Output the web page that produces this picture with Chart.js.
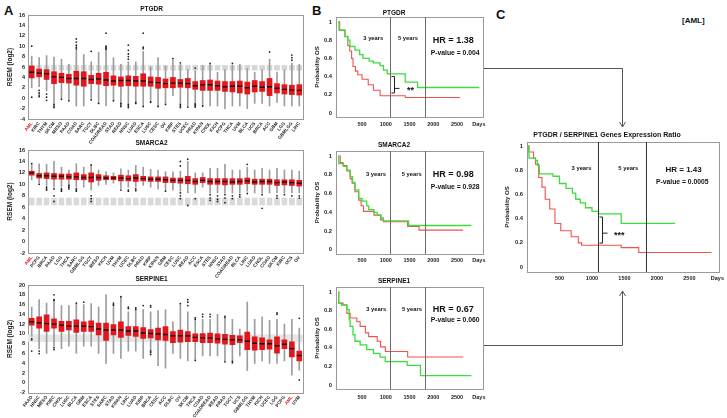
<!DOCTYPE html>
<html>
<head>
<meta charset="utf-8">
<script src="https://cdn.jsdelivr.net/npm/chart.js@4.4.0/dist/chart.umd.min.js"></script>
<style>
  body { margin: 0; background: #fff; width: 727px; height: 418px; overflow: hidden; position: relative; font-family: "Liberation Sans", Arial, sans-serif; }
  canvas { position: absolute; }
  .lbl { position: absolute; font-weight: bold; line-height: 1; color: #111; }
  svg { position: absolute; left: 0; top: 0; }
</style>
</head>
<body>
<div class="lbl" style="left:4px;top:4px;font-size:13px">A</div>
<div class="lbl" style="left:312px;top:4px;font-size:13px">B</div>
<div class="lbl" style="left:496px;top:8px;font-size:13px">C</div>
<div class="lbl" style="left:682px;top:17px;font-size:8px">[AML]</div>

<svg width="727" height="418">
  <g fill="none" stroke="#555" stroke-width="1">
    <polyline points="483,68.5 622.5,68.5 622.5,126" />
    <polyline points="619.5,122 622.5,127 625.5,122" />
    <polyline points="483,345.5 622.5,345.5 622.5,292" />
    <polyline points="619.5,296 622.5,291 625.5,296" />
  </g>
</svg>

<canvas id="boxA1" width="310" height="145" style="left:0;top:0"></canvas>
<canvas id="boxA2" width="310" height="150" style="left:0;top:130px"></canvas>
<canvas id="boxA3" width="310" height="152" style="left:0;top:266px"></canvas>
<canvas id="kmB1" width="190" height="132" style="left:305px;top:0"></canvas>
<canvas id="kmB2" width="190" height="139" style="left:305px;top:130px"></canvas>
<canvas id="kmB3" width="190" height="138" style="left:305px;top:266px"></canvas>
<canvas id="kmC" width="232" height="170" style="left:495px;top:120px"></canvas>

<script>
Chart.defaults.font.family = '"Liberation Sans", Arial, sans-serif';
Chart.defaults.font.weight = 'bold';
Chart.defaults.color = '#222';

// ---- Panel A: expression by cohort, [lo, q1, median, q3, hi]
const ptgdrLabels = ["AML","KIRC","THYM","SKCM","MESO","PAAD","COAD","SARC","TGCT","DLBC","COADREAD","STAD","READ","HNSC","LUAD","ESCA","LUSC","CESC","OV","KIRP","STES","UCEC","PRAD","KIPAN","CHOL","KICH","PCPG","THCA","UVM","BLCA","UCS","BRCA","ACC","GBM","LGG","GBMLGG","LIHC"];
const ptgdrBox = [
  [2.0,3.9,5.0,6.2,8.1],[2.2,4.1,4.8,5.6,7.8],[1.4,3.6,4.7,5.5,8.2],[-1.0,2.8,4.1,5.1,7.9],
  [0.0,3.0,4.0,4.8,7.5],[-0.4,2.9,3.8,4.6,6.5],[-1.5,2.5,3.8,5.2,9.3],[-1.5,2.3,3.8,5.1,8.4],
  [0.0,2.8,3.6,4.4,7.0],[-1.0,2.7,3.7,4.8,8.8],[-1.5,2.4,3.5,5.0,9.2],[-0.5,2.5,3.3,4.3,7.8],
  [-1.0,2.3,3.4,4.1,6.5],[-1.0,2.4,3.4,4.3,7.0],[-0.6,2.3,3.3,4.2,7.0],[-1.4,2.3,3.3,4.7,9.0],
  [-0.3,2.3,3.1,4.1,6.0],[-1.5,1.9,3.0,4.0,7.8],[-1.0,2.0,2.8,3.7,6.2],[0.5,2.0,2.9,4.0,7.3],
  [-1.0,2.1,2.9,3.6,6.5],[-1.5,2.0,2.8,3.8,5.5],[-1.0,1.7,2.4,3.2,5.3],[-1.3,1.5,2.6,3.4,6.3],
  [-1.5,1.5,2.6,3.5,6.5],[-1.5,1.5,2.4,3.3,5.0],[-2.0,1.3,2.2,3.2,5.5],[-1.5,1.2,2.3,3.2,6.4],
  [-1.5,1.0,2.3,3.3,6.5],[-2.0,0.8,2.0,3.1,5.7],[-1.0,1.2,2.3,3.4,5.0],[-1.0,1.3,2.1,3.2,5.5],
  [-1.5,0.5,2.2,3.8,7.5],[-0.8,1.0,1.9,2.8,5.0],[-1.5,0.8,1.7,2.6,5.4],[-1.5,0.7,1.6,2.5,6.7],
  [-1.5,0.6,1.5,2.6,6.5]
];
const ptgdrNormal = [
  [5.4,6.3],[5.4,6.3],[5.4,6.3],[5.4,6.3],[5.4,6.3],[5.4,6.3],[5.4,6.3],[5.4,6.3],[5.4,6.3],[5.4,6.3],
  [5.4,6.3],[5.4,6.3],[5.4,6.3],[5.4,6.3],[5.4,6.3],[5.4,6.3],[5.4,6.3],[5.4,6.3],[5.4,6.3],[5.4,6.3],
  [5.4,6.3],[5.4,6.3],[5.4,6.3],[5.4,6.3],[5.4,6.3],[5.4,6.3],[5.4,6.3],[5.4,6.3],[5.4,6.3],[5.4,6.3],
  [5.4,6.3],[5.4,6.3],[5.4,6.3],[5.4,6.3],[5.4,6.3],[5.4,6.3],[5.4,6.3]
];
const ptgdrOut = [
  [0,10.0],[0,0.2],[1,1.5],[1,1.0],[1,0.6],[1,0.3],[2,0.8],[2,0.2],[2,-0.4],[3,-1.2],[3,-1.5],[3,-1.8],
  [4,-0.2],[5,-0.5],[6,9.5],[6,9.8],[6,10.2],[6,10.8],[6,11.4],[8,9.0],[8,-0.3],[9,-1.0],
  [10,9.4],[10,9.6],[10,9.8],[10,10.0],[10,12.5],[11,-0.5],[12,-1.0],[12,-1.3],[12,-1.6],
  [13,7.5],[13,8.0],[13,8.5],[13,9.2],[13,10.2],[13,-1.2],[13,-1.5],[13,-1.8],[14,-0.8],[14,-1.0],
  [15,9.5],[15,9.8],[15,12.5],[15,-1.6],[16,-0.6],[16,-0.8],[17,-1.6],[18,-1.2],[19,7.6],
  [20,6.8],[20,-1.2],[20,-1.5],[20,-1.8],[21,-1.7],[22,5.8],[22,-1.1],[22,-1.3],[22,-1.5],[22,-1.7],
  [23,-1.5],[24,6.7],[27,6.7],[32,8.9],[35,7.3],[35,7.8],[35,8.3]
];

const smarcaLabels = ["AML","PCPG","BRCA","PAAD","LGG","THCA","SARC","GBMLGG","TGCT","MESO","KICH","UVM","THYM","UCEC","DLBC","PRAD","KIRP","KIPAN","GBM","CESC","LUSC","READ","ACC","ESCA","STES","HNSC","STAD","COADREAD","BLCA","LIHC","LUAD","CHOL","COAD","SKCM","KIRC","UCS","OV"];
const smarcaBox = [
  [10.8,11.6,12.0,12.3,13.3],[10.2,11.1,11.5,11.9,13.6],[9.8,11.0,11.5,12.0,13.5],[9.5,10.9,11.4,11.9,14.0],
  [9.5,10.9,11.4,11.8,13.0],[9.5,10.9,11.3,11.8,12.5],[9.5,10.8,11.3,12.0,13.6],[9.5,10.8,11.2,11.7,13.0],
  [9.0,10.4,11.2,12.0,13.3],[9.8,10.7,11.2,11.7,12.5],[10.0,10.8,11.1,11.5,12.2],[10.2,10.8,11.1,11.4,12.0],
  [9.3,10.6,11.1,11.6,12.7],[9.5,10.6,11.0,11.5,12.5],[9.5,10.5,11.1,11.7,13.3],[9.8,10.6,11.0,11.4,13.0],
  [9.5,10.5,10.9,11.3,12.6],[9.2,10.5,10.9,11.3,12.5],[9.0,10.3,10.8,11.3,12.2],[9.0,10.3,10.7,11.1,12.2],
  [8.8,10.2,10.7,11.1,12.3],[8.5,10.1,10.7,11.4,14.0],[8.5,10.0,10.5,11.0,12.0],[9.5,10.3,10.7,11.2,12.0],
  [8.5,10.0,10.5,11.0,12.8],[8.5,10.0,10.5,11.0,12.8],[8.5,9.9,10.5,11.0,13.5],[8.5,10.0,10.4,11.0,12.5],
  [8.5,10.0,10.5,11.0,12.5],[8.8,10.1,10.6,11.1,13.0],[8.5,10.0,10.4,10.9,12.5],[8.5,10.0,10.5,10.9,12.8],
  [8.5,10.0,10.5,10.9,12.5],[8.5,9.8,10.3,10.8,12.8],[8.5,9.9,10.4,10.8,12.5],[8.5,9.8,10.3,10.8,12.5],
  [8.5,9.7,10.2,10.7,12.3]
];
const smarcaNormal = [
  [6.4,7.6],[6.4,7.6],[6.4,7.6],[6.4,7.6],[6.4,7.6],[6.4,7.6],[6.4,7.6],[6.4,7.6],[6.4,7.6],[6.4,7.6],
  [6.4,7.6],[6.4,7.6],[6.4,7.6],[6.4,7.6],[6.4,7.6],[6.4,7.6],[6.4,7.6],[6.4,7.6],[6.4,7.6],[6.4,7.6],
  [6.4,7.6],[6.4,7.6],[6.4,7.6],[6.4,7.6],[6.4,7.6],[6.4,7.6],[6.4,7.6],[6.4,7.6],[6.4,7.6],[6.4,7.6],
  [6.4,7.6],[6.4,7.6],[6.4,7.6],[6.4,7.6],[6.4,7.6],[6.4,7.6],[6.4,7.6]
];
const smarcaOut = [
  [0,13.6],[1,10.0],[2,9.5],[2,9.2],[2,9.0],[3,9.2],[3,8.0],[3,7.0],[4,9.2],[4,9.0],[4,8.8],
  [5,9.8],[5,9.5],[5,9.2],[6,9.2],[6,9.0],[6,8.8],[8,8.0],[8,7.5],[8,7.0],[8,13.4],
  [12,9.0],[13,8.8],[13,9.0],[14,9.2],[14,8.9],[18,8.8],[20,8.5],[20,8.0],[20,7.5],[20,13.2],[20,14.0],
  [21,6.3],[21,14.4],[22,7.5],[24,8.2],[24,7.6],[24,7.2],[25,8.0],[25,7.4],[25,7.0],[26,8.2],[26,7.6],
  [26,6.8],[27,8.0],[27,7.5],[28,8.2],[28,7.8],[29,13.5],[29,8.4],[31,5.8],[31,8.2],[33,8.0],[33,7.6],
  [34,8.2],[35,8.0],[36,8.0],[36,7.6]
];

const serpLabels = ["PAAD","HNSC","MESO","KIRC","CHOL","LUSC","BLCA","GBM","ESCA","STES","SARC","STAD","KIPAN","LIHC","LUAD","KIRP","BRCA","CESC","ACC","DLBC","OV","SKCM","THCA","COAD","COADREAD","READ","PRAD","TGCT","UCS","GBMLGG","THYM","KICH","UCEC","LGG","PCPG","AML","UVM"];
const serpBox = [
  [9.5,11.8,12.5,13.2,15.5],[7.0,11.2,12.3,13.5,17.0],[6.0,10.5,12.1,13.9,16.3],[7.5,11.2,12.0,13.1,16.5],
  [7.0,10.5,11.8,12.6,15.8],[7.5,10.8,11.6,12.6,15.8],[6.0,10.3,11.6,12.9,16.2],[7.5,10.5,11.6,12.5,16.0],
  [7.5,10.5,11.5,12.7,16.2],[6.0,9.8,11.0,12.2,15.5],[4.0,8.7,10.8,12.2,18.0],[6.0,9.8,10.8,11.9,15.5],
  [5.0,9.3,10.8,12.5,17.5],[6.5,9.7,10.6,11.5,14.5],[6.5,9.5,10.6,11.5,14.8],[5.0,9.1,10.2,11.3,15.0],
  [6.5,9.2,10.1,10.9,14.5],[3.5,8.8,10.0,11.2,14.8],[3.0,8.7,9.9,11.5,15.0],[6.0,8.2,9.6,10.5,12.5],
  [5.0,8.3,9.6,10.8,16.0],[4.5,8.4,9.6,10.5,14.5],[4.8,8.4,9.3,10.0,12.8],[5.5,8.2,9.2,10.1,13.0],
  [5.5,8.2,9.2,10.2,13.0],[5.5,8.1,9.0,10.0,14.0],[4.5,7.9,8.9,9.9,13.0],[4.5,7.8,8.8,9.7,13.0],
  [5.5,8.2,8.8,9.6,11.0],[2.5,6.8,8.5,10.4,16.5],[4.0,6.7,8.1,9.4,13.0],[4.5,6.8,8.0,9.2,13.5],
  [4.0,6.9,8.0,8.8,12.8],[4.0,6.1,7.6,9.4,13.0],[4.5,7.0,7.9,8.8,12.0],[1.6,5.3,7.0,8.4,13.0],
  [2.6,4.5,5.6,6.5,11.2]
];
const serpNormal = [
  [8.4,9.8],[8.4,9.8],[8.4,9.8],[8.4,9.8],[8.4,9.8],[8.4,9.8],[8.4,9.8],[8.4,9.8],[8.4,9.8],[8.4,9.8],
  [8.4,9.8],[8.4,9.8],[8.4,9.8],[8.4,9.8],[8.4,9.8],[8.4,9.8],[8.4,9.8],[8.4,9.8],[8.4,9.8],[8.4,9.8],
  [8.4,9.8],[8.4,9.8],[8.4,9.8],[8.4,9.8],[8.4,9.8],[8.4,9.8],[8.4,9.8],[8.4,9.8],[8.4,9.8],[8.4,9.8],
  [8.4,9.8],[8.4,9.8],[8.4,9.8],[8.4,9.8],[8.4,9.8],[8.4,9.8],[8.4,9.8]
];
const serpOut = [
  [0,9.0],[0,8.8],[0,6.5],[1,6.5],[1,6.0],[3,18.0],[3,17.0],[3,16.8],[3,7.2],[3,6.8],[6,16.3],
  [7,16.5],[11,15.8],[11,16.0],[11,16.3],[12,17.6],[13,15.2],[13,15.5],[14,15.0],[14,15.3],[15,15.8],
  [16,6.5],[16,6.2],[16,5.8],[16,15.5],[16,15.8],[20,16.2],[21,17.0],[21,16.5],[21,15.8],
  [22,13.0],[22,13.3],[22,4.6],[23,13.5],[23,14.0],[24,14.0],[24,13.5],[26,13.3],[26,13.6],[26,4.3],
  [27,4.4],[27,4.1],[33,14.3],[33,14.0],[36,13.2],[36,0.6]
];

// ---- Panel B / C: Kaplan-Meier steps [day, survival]
const ptgdrGreen = [[0,1],[15,0.91],[140,0.84],[200,0.8],[245,0.73],[350,0.69],[450,0.64],[520,0.6],[650,0.57],[740,0.55],[880,0.52],[950,0.47],[1030,0.43],[1410,0.34],[1670,0.28],[2970,0.28]];
const ptgdrRed = [[0,1],[30,0.91],[140,0.84],[200,0.74],[240,0.68],[280,0.6],[310,0.51],[360,0.46],[410,0.42],[500,0.37],[630,0.31],[740,0.25],[880,0.19],[1410,0.17],[2560,0.17]];
const smarcaGreen = [[0,1],[10,0.92],[110,0.89],[180,0.85],[250,0.78],[300,0.72],[350,0.64],[430,0.55],[500,0.52],[600,0.47],[640,0.43],[750,0.4],[820,0.37],[900,0.34],[950,0.31],[1480,0.26],[2800,0.26]];
const smarcaRed = [[0,1],[40,0.93],[100,0.9],[180,0.84],[250,0.76],[290,0.71],[350,0.62],[430,0.53],[480,0.47],[530,0.41],[750,0.37],[890,0.32],[950,0.3],[1460,0.25],[1700,0.21],[2630,0.21]];
const serpGreen = [[0,1],[10,0.88],[70,0.86],[180,0.81],[230,0.7],[250,0.63],[310,0.54],[350,0.47],[460,0.43],[600,0.38],[740,0.34],[880,0.3],[990,0.25],[1450,0.21],[1730,0.1],[2800,0.1]];
const serpRed = [[0,1],[10,0.88],[100,0.86],[180,0.77],[250,0.72],[390,0.68],[460,0.63],[570,0.56],[640,0.52],[820,0.47],[890,0.41],[990,0.36],[1460,0.3],[2630,0.3]];
const ratioGreen = [[0,1],[30,0.9],[130,0.88],[160,0.84],[190,0.77],[400,0.75],[500,0.69],[600,0.65],[700,0.61],[750,0.56],[820,0.53],[900,0.49],[1000,0.46],[1100,0.44],[1450,0.36],[2280,0.36]];
const ratioRed = [[0,1],[30,0.95],[100,0.9],[130,0.85],[180,0.74],[230,0.66],[280,0.56],[350,0.48],[430,0.36],[520,0.3],[680,0.25],[790,0.2],[840,0.18],[1450,0.16],[1720,0.12],[2840,0.12]];

const kmYTicks = [0, 0.2, 0.4, 0.6, 0.8, 1];
const kmXTicks = [500, 1000, 1500, 2000, 2500];
const yearMarks = [1095, 1825];

const BOX_RED = '#e3161c';

// frame around the plot area
const frame = {
  id: 'frame',
  beforeDatasetsDraw(chart) {
    const a = chart.chartArea, c = chart.ctx;
    c.save();
    c.strokeStyle = '#9a9a9a';
    c.lineWidth = 1;
    c.strokeRect(Math.round(a.left) + 0.5, Math.round(a.top) + 0.5, Math.round(a.right - a.left), Math.round(a.bottom - a.top));
    c.restore();
  }
};

function boxChart(id, title, labels, box, normal, out, yMin, yMax, lay) {
  return new Chart(document.getElementById(id), {
    type: 'bar',
    data: {
      labels: labels,
      datasets: [
        { data: normal, backgroundColor: lay.normColor, barThickness: lay.normW, grouped: false, order: 6 },
        { data: box.map(b => [b[0], b[4]]), backgroundColor: '#9d9d9d', barThickness: 1, grouped: false, order: 5 },
        { data: box.map(b => [b[1], b[3]]), backgroundColor: BOX_RED, barThickness: 5, grouped: false, order: 4 },
        { type: 'line', data: out.map(p => ({ x: labels[p[0]], y: p[1] })), showLine: false,
          pointRadius: 0.9, backgroundColor: '#222', borderWidth: 0, order: 3 },
        { type: 'line', data: box.map(b => b[2]), showLine: false, pointStyle: 'line',
          pointRadius: 2.5, borderColor: '#111', borderWidth: 1.4, order: 1 }
      ]
    },
    options: {
      responsive: false, animation: false, events: [],
      layout: { padding: { left: 0, right: lay.padR, top: 0, bottom: 0 } },
      plugins: {
        legend: { display: false }, tooltip: { enabled: false },
        title: { display: true, text: title, font: { size: 6.5, weight: 'bold' }, color: '#111',
                 padding: { top: lay.tTop, bottom: lay.tBot } }
      },
      scales: {
        x: {
          offset: true, grid: { display: false, drawTicks: false }, border: { display: false },
          ticks: { autoSkip: false, minRotation: 52, maxRotation: 52, padding: 2,
                   font: { size: 4.6 }, color: ctx => labels[ctx.index] === 'AML' ? BOX_RED : '#222' },
          afterFit: s => { s.height = lay.xh; }
        },
        y: {
          min: yMin, max: yMax, grid: { display: false, drawTicks: false }, border: { display: false },
          ticks: { stepSize: 2, font: { size: 5.5 }, padding: 3 },
          title: { display: true, text: 'RSEM (log2)', font: { size: 6.5, weight: 'bold' }, padding: { top: 6, bottom: 0 } },
          afterFit: s => { s.width = 28; }
        }
      }
    },
    plugins: [frame]
  });
}

function kmNotes(info) {
  return {
    id: 'kmNotes',
    afterDatasetsDraw(chart) {
      const c = chart.ctx, x = chart.scales.x, y = chart.scales.y, a = chart.chartArea;
      c.save();
      c.strokeStyle = info.lineColor;
      c.lineWidth = 1;
      yearMarks.forEach(d => {
        const px = Math.round(x.getPixelForValue(d)) + 0.5;
        c.beginPath(); c.moveTo(px, a.top); c.lineTo(px, a.bottom); c.stroke();
      });
      c.fillStyle = '#111';
      c.textAlign = 'center';
      c.textBaseline = 'middle';
      c.font = 'bold 5.8px "Liberation Sans", Arial, sans-serif';
      c.fillText('3 years', x.getPixelForValue(info.y3[0]), y.getPixelForValue(info.y3[1]));
      c.fillText('5 years', x.getPixelForValue(info.y5[0]), y.getPixelForValue(info.y5[1]));
      c.font = 'bold ' + info.hrSize + 'px "Liberation Sans", Arial, sans-serif';
      c.fillText(info.hr, x.getPixelForValue(info.hrPos[0]), y.getPixelForValue(info.hrPos[1]));
      c.font = 'bold 6.8px "Liberation Sans", Arial, sans-serif';
      c.fillText(info.p, x.getPixelForValue(info.pPos[0]), y.getPixelForValue(info.pPos[1]));
      if (info.brace) {
        const bx = Math.round(x.getPixelForValue(info.brace[0])) + 0.5;
        const t = y.getPixelForValue(info.brace[1]), b = y.getPixelForValue(info.brace[2]);
        const m = y.getPixelForValue(info.brace[3]);
        c.strokeStyle = '#222';
        c.beginPath();
        c.moveTo(bx - 3, t); c.lineTo(bx, t); c.lineTo(bx, b); c.lineTo(bx - 3, b);
        c.moveTo(bx, m); c.lineTo(bx + 5, m);
        c.stroke();
        c.font = 'bold 9px "Liberation Sans", Arial, sans-serif';
        c.fillText(info.stars, x.getPixelForValue(info.starPos[0]), y.getPixelForValue(info.starPos[1]) + 2);
      }
      c.restore();
    }
  };
}

function kmChart(id, title, green, red, info, lay) {
  return new Chart(document.getElementById(id), {
    type: 'line',
    data: {
      datasets: [
        { data: green.map(p => ({ x: p[0], y: p[1] })), borderColor: '#3fdc3f', borderWidth: 1.3, pointRadius: 0, stepped: true },
        { data: red.map(p => ({ x: p[0], y: p[1] })), borderColor: '#f0524f', borderWidth: 1.1, pointRadius: 0, stepped: true }
      ]
    },
    options: {
      responsive: false, animation: false, events: [],
      layout: { padding: { left: 0, right: lay.padR, top: 0, bottom: 0 } },
      plugins: {
        legend: { display: false }, tooltip: { enabled: false },
        title: { display: true, text: title, font: { size: lay.tSize, weight: 'bold' }, color: '#111',
                 padding: { top: lay.tTop, bottom: lay.tBot } }
      },
      scales: {
        x: {
          type: 'linear', min: lay.xMin, max: lay.xMax, grid: { display: false, drawTicks: false }, border: { display: false },
          afterBuildTicks: s => { s.ticks = kmXTicks.concat([lay.days]).map(v => ({ value: v })); },
          ticks: { autoSkip: false, maxRotation: 0, padding: lay.xPad, font: { size: 5.5 },
                   callback: v => v === lay.days ? 'Days' : String(v) },
          afterFit: s => { s.height = lay.xh; }
        },
        y: {
          type: 'linear', min: lay.yMin, max: lay.yMax, grid: { display: false, drawTicks: false }, border: { display: false },
          afterBuildTicks: s => { s.ticks = kmYTicks.map(v => ({ value: v })); },
          ticks: { font: { size: 5.8 }, padding: 4, callback: v => String(v) },
          title: { display: true, text: 'Probability OS', font: { size: 6, weight: 'bold' }, padding: { top: lay.yTitle, bottom: 0 } },
          afterFit: s => { s.width = lay.yw; }
        }
      }
    },
    plugins: [frame, kmNotes(info)]
  });
}

boxChart('boxA1', 'PTGDR', ptgdrLabels, ptgdrBox, ptgdrNormal, ptgdrOut, -4, 16,
  { padR: 7, tTop: 5.1, tBot: 2.1, xh: 26, normColor: '#d6d6d6', normW: 5 });
boxChart('boxA2', 'SMARCA2', smarcaLabels, smarcaBox, smarcaNormal, smarcaOut, -2, 16,
  { padR: 7, tTop: 9.1, tBot: 3.1, xh: 27, normColor: '#d9d9d9', normW: 5 });
boxChart('boxA3', 'SERPINE1', serpLabels, serpBox, serpNormal, serpOut, -2, 20,
  { padR: 7, tTop: 9.1, tBot: 2.1, xh: 25.3, normColor: '#e6e6e6', normW: 7.4 });

const kmBase = { padR: 12, yw: 31, yTitle: 9, xMin: -48, xMax: 3046, yMin: -0.044, yMax: 1.054, days: 2960, xh: 15, tSize: 6.5, xPad: 4 };

kmChart('kmB1', 'PTGDR', ptgdrGreen, ptgdrRed,
  { lineColor: '#6a6a6a', y3: [737, 0.82], y5: [1467, 0.82], hr: 'HR = 1.38', hrSize: 9, hrPos: [2420, 0.8], p: 'P-value = 0.004', pPos: [2460, 0.66],
    brace: [1173, 0.4, 0.22, 0.27], stars: '**', starPos: [1520, 0.27] },
  Object.assign({}, kmBase, { tTop: 9.1, tBot: 0.1, xPad: 4 }));
kmChart('kmB2', 'SMARCA2', smarcaGreen, smarcaRed,
  { lineColor: '#6a6a6a', y3: [794, 0.805], y5: [1545, 0.805], hr: 'HR = 0.98', hrSize: 9, hrPos: [2420, 0.8], p: 'P-value = 0.928', pPos: [2460, 0.67] },
  Object.assign({}, kmBase, { tTop: 11.1, tBot: 2.1, xPad: 3 }));
kmChart('kmB3', 'SERPINE1', serpGreen, serpRed,
  { lineColor: '#6a6a6a', y3: [797, 0.817], y5: [1550, 0.817], hr: 'HR = 0.67', hrSize: 9, hrPos: [2420, 0.81], p: 'P-value = 0.060', pPos: [2460, 0.7] },
  Object.assign({}, kmBase, { tTop: 11.1, tBot: 2.1, xPad: 5 }));
kmChart('kmC', 'PTGDR / SERPINE1 Genes Expression Ratio', ratioGreen, ratioRed,
  { lineColor: '#333', y3: [840, 0.818], y5: [1560, 0.818], hr: 'HR = 1.43', hrSize: 8, hrPos: [2410, 0.8], p: 'P-value = 0.0005', pPos: [2390, 0.7],
    brace: [1160, 0.413, 0.198, 0.28], stars: '***', starPos: [1420, 0.28] },
  { padR: 8, yw: 32, yTitle: 8.4, xMin: 0, xMax: 2954, yMin: -0.041, yMax: 1.033, days: 2930, xh: 18, tSize: 7, tTop: 10.8, tBot: 2.8, xPad: 3 });
</script>
</body>
</html>
